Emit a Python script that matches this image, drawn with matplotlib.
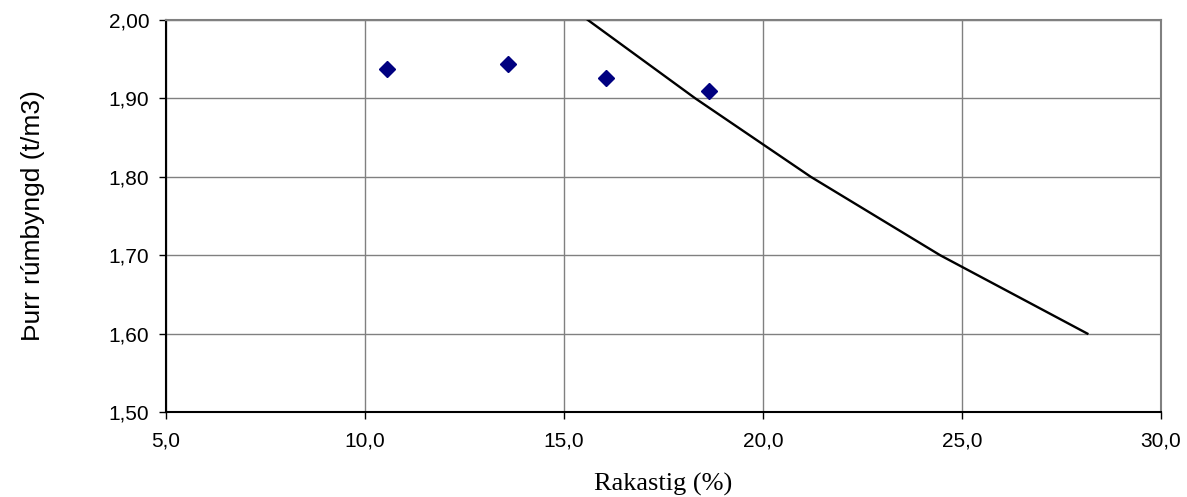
import matplotlib
matplotlib.use("Agg")
import matplotlib.pyplot as plt
from matplotlib.ticker import FuncFormatter, MultipleLocator

# measured samples: moisture content (%) and dry density (t/m3)
rakastig = [10.55, 13.6, 16.05, 18.65]
thurr_rumthyngd = [1.937, 1.944, 1.926, 1.910]

# saturation line
mettun_raki = [15.6, 18.3, 21.2, 24.45, 28.15]
mettun_thyngd = [2.00, 1.90, 1.80, 1.70, 1.60]

fig = plt.figure(figsize=(11.87, 4.97), dpi=100)
ax = fig.add_axes([0.1398, 0.171, 0.8383, 0.7888])

ax.plot(mettun_raki, mettun_thyngd, color="black", lw=1.7, zorder=3)
ax.plot(rakastig, thurr_rumthyngd, linestyle="none", marker="D",
        ms=8.5, color="#000080", zorder=4)

ax.set_xlim(5, 30)
ax.set_ylim(1.5, 2.0)
ax.xaxis.set_major_locator(MultipleLocator(5))
ax.yaxis.set_major_locator(MultipleLocator(0.1))
ax.xaxis.set_major_formatter(FuncFormatter(lambda v, p: f"{v:.1f}".replace(".", ",")))
ax.yaxis.set_major_formatter(FuncFormatter(lambda v, p: f"{v:.2f}".replace(".", ",")))

ax.grid(True, color="#808080", lw=1.0)
ax.set_axisbelow(True)
for side in ["top", "right"]:
    ax.spines[side].set_color("#808080")
    ax.spines[side].set_linewidth(1.5)
for side in ["left", "bottom"]:
    ax.spines[side].set_color("black")
    ax.spines[side].set_linewidth(1.5)

ax.tick_params(direction="out", length=5, width=1, colors="black",
               labelsize=15)
ax.tick_params(axis="x", pad=9)
ax.tick_params(axis="y", pad=7)
for lab in ax.get_xticklabels() + ax.get_yticklabels():
    lab.set_family("Liberation Sans")

ax.set_xlabel("Rakastig (%)", family="Liberation Serif", fontsize=19, labelpad=16)
ax.set_ylabel("Þurr rúmbyngd (t/m3)", family="Liberation Sans", fontsize=19,
              labelpad=46)

fig.savefig("out.png", dpi=100)
